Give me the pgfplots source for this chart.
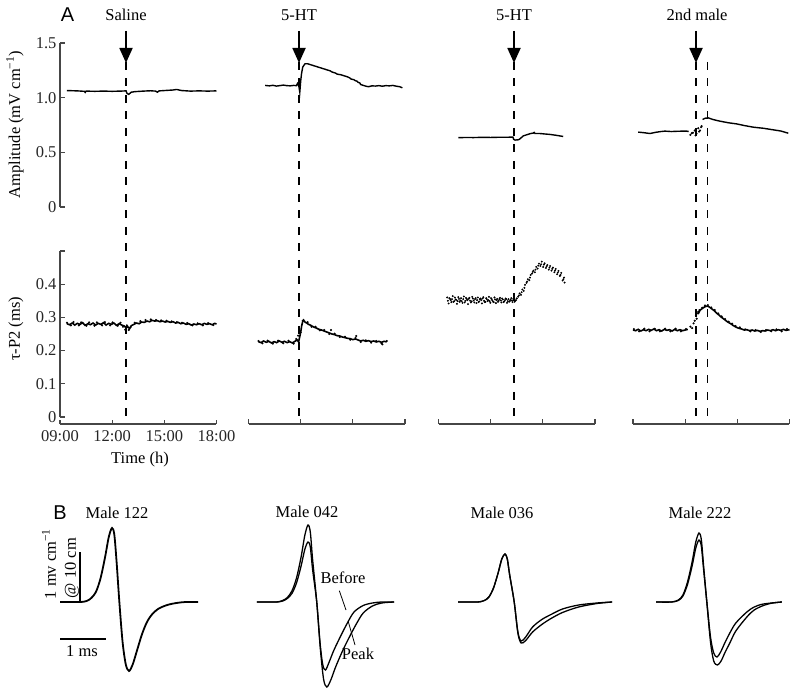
\documentclass[border=0pt]{standalone}
\usepackage{fontspec}
\setmainfont{Liberation Serif}
\newfontfamily\sansA{Liberation Sans}
\usepackage{pgfplots}
\pgfplotsset{compat=1.18}
\usetikzlibrary{arrows.meta}
\definecolor{axgray}{RGB}{70,70,70}
\pgfplotsset{
 base/.style={scale only axis, width=156.5pt, clip=false,
   /pgf/number format/assume math mode=true,
   tick label style={font=\fontsize{16.5}{19}\selectfont, text=black!85},
   xticklabel style={yshift=-3pt},
   axis line style={axgray, line width=1.3pt},
   major tick length=4.5pt, tick style={axgray, line width=1.2pt},
   xmin=0, xmax=9},
 ampl/.style={base, height=164pt, ymin=0, ymax=1.5},
 taup/.style={base, height=166pt, ymin=0, ymax=0.5},
 trace/.style={black, line width=1.4pt},
 tline/.style={black, line width=1.6pt},
 dots/.style={black, only marks, mark=*, mark size=0.85pt},
 wave/.style={hide axis, scale only axis, clip=false, width=165.6pt, height=170pt,
   xmin=-1.2, xmax=2.4, ymin=-1.8, ymax=1.6},
 wl/.style={black, line width=1.3pt, smooth},
}
\newcommand{\fs}{\fontsize{16.5}{19}\selectfont}
\begin{document}
\begin{tikzpicture}
\path[use as bounding box] (0,0) rectangle (800pt,694pt);

% ================= Column 1 =================
\begin{axis}[ampl, xmin=9, xmax=18, at={(60pt,487pt)}, anchor=south west,
  axis x line=none, axis y line*=left,
  ytick={0,0.5,1,1.5}, yticklabels={0,0.5,1.0,1.5}]
\addplot[trace] coordinates {(9.4,1.065)(9.8,1.063)(10.0,1.062)(10.4,1.058)(10.45,1.048)(10.5,1.06)(11.0,1.058)(11.5,1.06)(12.0,1.058)(12.5,1.06)(12.8,1.062)(12.85,1.04)(12.95,1.03)(13.1,1.05)(13.3,1.055)(13.8,1.06)(14.2,1.063)(14.5,1.06)(14.6,1.05)(14.7,1.062)(15.5,1.07)(15.7,1.075)(16.0,1.065)(16.5,1.06)(17.0,1.062)(17.5,1.06)(18.0,1.062)};
\end{axis}
\begin{axis}[taup, xmin=9, xmax=18, at={(60pt,277pt)}, anchor=south west,
  axis x line*=bottom, axis y line*=left, axis x line shift=7pt,
  xtick={9,12,15,18}, xticklabels={09:00,12:00,15:00,18:00},
  ytick={0,0.1,0.2,0.3,0.4,0.5}, yticklabels={0,0.1,0.2,0.3,0.4,{}}]
\addplot[tline] coordinates {(9.40,0.281)(9.55,0.278)(9.70,0.283)(9.85,0.277)(10.00,0.282)(10.15,0.279)(10.30,0.284)(10.45,0.276)(10.60,0.281)(10.75,0.278)(10.90,0.283)(11.05,0.277)(11.20,0.282)(11.35,0.279)(11.50,0.284)(11.65,0.277)(11.80,0.282)(11.95,0.279)(12.10,0.283)(12.25,0.276)(12.40,0.281)(12.55,0.277)(12.70,0.274)(12.80,0.268)(12.90,0.272)(13.00,0.266)(13.10,0.275)(13.25,0.279)(13.40,0.283)(13.55,0.281)(13.70,0.286)(13.85,0.285)(14.00,0.289)(14.15,0.287)(14.30,0.291)(14.45,0.289)(14.60,0.290)(14.75,0.287)(14.90,0.289)(15.05,0.286)(15.20,0.288)(15.35,0.285)(15.50,0.287)(15.65,0.283)(15.80,0.285)(15.95,0.281)(16.10,0.283)(16.25,0.279)(16.40,0.281)(16.55,0.277)(16.70,0.280)(16.85,0.278)(17.00,0.281)(17.15,0.278)(17.30,0.282)(17.45,0.279)(17.60,0.281)(17.75,0.278)(17.90,0.282)(18.00,0.280)};
\addplot[dots] coordinates {(9.40,0.284)(9.62,0.276)(9.78,0.286)(10.08,0.276)(10.22,0.285)(10.52,0.275)(10.68,0.285)(10.98,0.275)(11.12,0.285)(11.42,0.276)(11.58,0.286)(11.88,0.276)(12.02,0.285)(12.32,0.275)(12.48,0.284)(12.62,0.272)(12.75,0.263)(12.85,0.276)(12.95,0.262)(13.05,0.270)(13.30,0.284)(13.62,0.289)(13.92,0.292)(14.22,0.294)(14.52,0.292)(14.82,0.291)(15.12,0.290)(15.42,0.288)(15.72,0.286)(16.02,0.284)(16.32,0.283)(16.62,0.276)(16.92,0.282)(17.22,0.276)(17.52,0.283)(17.82,0.277)};
\end{axis}

% ================= Column 2 =================
\begin{axis}[ampl, at={(248.5pt,487pt)}, anchor=south west, hide axis]
\addplot[trace] coordinates {(0.96,1.112)(1.2,1.108)(1.4,1.113)(1.6,1.106)(1.8,1.110)(2.0,1.115)(2.2,1.110)(2.4,1.108)(2.6,1.112)(2.75,1.110)(2.82,1.13)(2.9,1.10)(2.95,1.05)(3.0,1.15)(3.05,1.22)(3.12,1.28)(3.25,1.31)(3.4,1.31)(3.6,1.30)(3.9,1.285)(4.2,1.27)(4.5,1.255)(4.7,1.245)(4.8,1.235)(5.0,1.225)(5.1,1.215)(5.3,1.21)(5.5,1.2)(5.7,1.19)(5.83,1.18)(5.9,1.17)(6.05,1.165)(6.15,1.155)(6.25,1.15)(6.3,1.14)(6.4,1.135)(6.45,1.12)(6.75,1.105)(6.9,1.10)(7.1,1.108)(7.3,1.106)(7.5,1.11)(7.7,1.105)(7.9,1.11)(8.1,1.108)(8.3,1.112)(8.5,1.105)(8.7,1.10)(8.85,1.09)};
\end{axis}
\begin{axis}[taup, at={(248.5pt,277pt)}, anchor=south west,
  axis x line*=bottom, axis y line=none, axis x line shift=7pt,
  xtick={0,3,6,9}, xticklabels={}, ytick=\empty]
\addplot[tline] coordinates {(0.57,0.227)(0.72,0.224)(0.87,0.229)(1.02,0.225)(1.17,0.228)(1.32,0.223)(1.47,0.227)(1.62,0.224)(1.77,0.229)(1.92,0.225)(2.07,0.228)(2.22,0.224)(2.37,0.227)(2.52,0.223)(2.67,0.228)(2.80,0.232)(2.88,0.226)(2.94,0.240)(3.00,0.255)(3.06,0.275)(3.12,0.288)(3.17,0.292)(3.25,0.286)(3.35,0.283)(3.45,0.279)(3.55,0.277)(3.65,0.274)(3.75,0.271)(3.90,0.268)(4.05,0.264)(4.20,0.262)(4.35,0.259)(4.50,0.256)(4.65,0.253)(4.80,0.250)(4.95,0.248)(5.10,0.245)(5.25,0.244)(5.40,0.241)(5.55,0.239)(5.70,0.237)(5.85,0.236)(6.00,0.233)(6.15,0.235)(6.30,0.232)(6.45,0.229)(6.60,0.231)(6.75,0.228)(6.90,0.230)(7.05,0.227)(7.20,0.229)(7.35,0.226)(7.50,0.228)(7.65,0.225)(7.80,0.228)(7.95,0.226)};
\addplot[dots] coordinates {(0.57,0.229)(0.80,0.222)(1.10,0.230)(1.40,0.221)(1.70,0.230)(2.00,0.222)(2.30,0.230)(2.60,0.221)(2.75,0.235)(2.85,0.245)(2.92,0.262)(3.00,0.255)(3.12,0.290)(3.40,0.286)(3.62,0.272)(3.85,0.272)(4.10,0.261)(4.35,0.262)(4.65,0.250)(4.75,0.262)(4.95,0.251)(5.25,0.241)(5.55,0.242)(5.85,0.233)(6.15,0.238)(6.20,0.244)(6.45,0.226)(6.75,0.231)(7.05,0.224)(7.35,0.229)(7.65,0.222)(7.95,0.229)(7.70,0.219)};
\end{axis}

% ================= Column 3 =================
\begin{axis}[ampl, at={(438.5pt,487pt)}, anchor=south west, hide axis]
\addplot[trace] coordinates {(1.14,0.634)(1.6,0.636)(2.0,0.635)(2.5,0.637)(3.0,0.636)(3.5,0.638)(4.0,0.638)(4.28,0.640)(4.32,0.62)(4.4,0.612)(4.6,0.615)(4.7,0.625)(4.87,0.65)(5.1,0.662)(5.3,0.672)(5.45,0.676)(5.5,0.682)(5.55,0.672)(5.83,0.672)(6.1,0.668)(6.4,0.664)(6.8,0.655)(7.17,0.645)};
\end{axis}
\begin{axis}[taup, at={(438.5pt,277pt)}, anchor=south west,
  axis x line*=bottom, axis y line=none, axis x line shift=7pt,
  xtick={0,3,6,9}, xticklabels={}, ytick=\empty]
\addplot[dots, mark size=0.75pt] coordinates {(0.50,0.360)(0.58,0.342)(0.66,0.356)(0.74,0.346)(0.82,0.364)(0.90,0.349)(0.98,0.354)(1.06,0.341)(1.14,0.361)(1.22,0.347)(1.30,0.358)(1.38,0.344)(1.46,0.363)(1.54,0.350)(1.62,0.356)(1.70,0.340)(1.78,0.359)(1.86,0.345)(1.94,0.362)(2.02,0.351)(2.10,0.355)(2.18,0.343)(2.26,0.360)(2.34,0.348)(2.42,0.357)(2.50,0.342)(2.58,0.361)(2.66,0.346)(2.74,0.358)(2.82,0.349)(2.90,0.362)(2.98,0.344)(3.06,0.355)(3.14,0.347)(3.22,0.360)(3.30,0.343)(3.38,0.356)(3.46,0.350)(3.54,0.359)(3.62,0.345)(3.70,0.354)(3.78,0.348)(3.86,0.357)(3.94,0.344)(4.02,0.355)(4.10,0.349)(4.18,0.358)(4.26,0.346)(4.34,0.354)(4.42,0.350)(4.50,0.357)(4.58,0.362)(4.66,0.372)(4.74,0.368)(4.82,0.384)(4.90,0.380)(4.98,0.398)(5.06,0.404)(5.14,0.415)(5.22,0.412)(5.30,0.428)(5.38,0.432)(5.46,0.441)(5.54,0.436)(5.62,0.452)(5.70,0.447)(5.78,0.462)(5.86,0.455)(5.94,0.468)(6.02,0.452)(6.10,0.463)(6.18,0.449)(6.26,0.458)(6.34,0.444)(6.42,0.455)(6.50,0.441)(6.58,0.450)(6.66,0.436)(6.74,0.446)(6.82,0.430)(6.90,0.440)(6.98,0.425)(7.06,0.434)(7.14,0.411)(7.22,0.420)(7.25,0.405)};
\addplot[dots, mark size=0.75pt] coordinates {(0.54,0.350)(0.62,0.358)(0.70,0.352)(0.78,0.355)(0.86,0.347)(0.94,0.360)(1.02,0.353)(1.10,0.349)(1.18,0.356)(1.26,0.351)(1.34,0.349)(1.42,0.355)(1.50,0.345)(1.58,0.359)(1.66,0.352)(1.74,0.356)(1.82,0.350)(1.90,0.348)(1.98,0.357)(2.06,0.345)(2.14,0.358)(2.22,0.352)(2.30,0.346)(2.38,0.355)(2.46,0.352)(2.54,0.357)(2.62,0.350)(2.70,0.347)(2.78,0.355)(2.86,0.352)(2.94,0.349)(3.02,0.358)(3.10,0.351)(3.18,0.346)(3.26,0.354)(3.34,0.352)(3.42,0.347)(3.50,0.355)(3.58,0.351)(3.66,0.357)(3.74,0.346)(3.82,0.352)(3.90,0.355)(3.98,0.349)(4.06,0.347)(4.14,0.353)(4.22,0.351)(4.30,0.356)(4.38,0.347)(4.46,0.352)(4.62,0.366)(4.78,0.376)(4.94,0.389)(5.10,0.408)(5.26,0.420)(5.42,0.437)(5.58,0.444)(5.74,0.456)(5.90,0.460)(6.06,0.459)(6.22,0.454)(6.38,0.450)(6.54,0.446)(6.70,0.441)(6.86,0.435)(7.02,0.428)(7.18,0.415)};
\end{axis}

% ================= Column 4 =================
\begin{axis}[ampl, at={(633pt,487pt)}, anchor=south west, hide axis]
\addplot[trace] coordinates {(0.3,0.685)(0.6,0.680)(0.98,0.672)(1.3,0.683)(1.6,0.690)(1.84,0.694)(2.2,0.690)(2.6,0.693)(3.09,0.694)(3.2,0.690)};
\addplot[dots] coordinates {(3.3,0.66)(3.38,0.675)(3.45,0.68)(3.55,0.70)(3.6,0.655)(3.65,0.67)(3.75,0.72)(3.8,0.69)(3.85,0.70)(3.92,0.73)(3.95,0.74)};
\addplot[trace] coordinates {(4.0,0.80)(4.15,0.812)(4.33,0.815)(4.6,0.80)(5.0,0.785)(5.5,0.77)(5.96,0.76)(6.4,0.745)(6.92,0.73)(7.5,0.72)(8.06,0.706)(8.3,0.70)(8.5,0.695)(8.93,0.675)};
\end{axis}
\begin{axis}[taup, at={(633pt,277pt)}, anchor=south west,
  axis x line*=bottom, axis y line=none, axis x line shift=7pt,
  xtick={0,3,6,9}, xticklabels={}, ytick=\empty]
\addplot[tline] coordinates {(0.00,0.262)(0.15,0.260)(0.30,0.264)(0.45,0.259)(0.60,0.263)(0.75,0.260)(0.90,0.264)(1.05,0.261)(1.20,0.265)(1.35,0.260)(1.50,0.263)(1.65,0.259)(1.80,0.264)(1.95,0.261)(2.10,0.263)(2.25,0.259)(2.40,0.264)(2.55,0.260)(2.70,0.263)(2.85,0.260)(3.00,0.262)(3.15,0.264)};
\addplot[tline] coordinates {(3.70,0.318)(3.78,0.314)(3.86,0.322)(3.94,0.325)(4.02,0.328)(4.10,0.331)(4.18,0.333)(4.26,0.334)(4.34,0.333)(4.45,0.329)(4.55,0.325)(4.65,0.321)(4.75,0.316)(4.85,0.311)(4.95,0.307)(5.05,0.302)(5.15,0.298)(5.25,0.294)(5.35,0.290)(5.45,0.286)(5.55,0.283)(5.65,0.280)(5.75,0.276)(5.85,0.273)(5.95,0.270)(6.10,0.267)(6.25,0.265)(6.40,0.262)(6.55,0.263)(6.70,0.260)(6.85,0.262)(7.00,0.259)(7.15,0.261)(7.30,0.258)(7.45,0.260)(7.60,0.259)(7.75,0.262)(7.90,0.260)(8.05,0.263)(8.20,0.260)(8.35,0.263)(8.50,0.261)(8.65,0.264)(8.80,0.261)(9.00,0.263)};
\addplot[dots] coordinates {(0.05,0.265)(0.35,0.258)(0.65,0.266)(0.95,0.258)(1.25,0.266)(1.55,0.258)(1.85,0.266)(2.15,0.258)(2.45,0.266)(2.75,0.258)(3.05,0.265)(3.30,0.272)(3.40,0.268)(3.48,0.282)(3.55,0.290)(3.62,0.305)(3.66,0.296)(3.74,0.312)(3.82,0.322)(3.98,0.329)(4.14,0.336)(4.30,0.337)(4.50,0.330)(4.70,0.322)(4.90,0.312)(5.10,0.303)(5.30,0.295)(5.50,0.287)(5.70,0.281)(5.90,0.274)(6.15,0.270)(6.45,0.264)(6.75,0.258)(7.05,0.262)(7.35,0.256)(7.65,0.262)(7.95,0.258)(8.25,0.264)(8.55,0.258)(8.85,0.265)};
\end{axis}

% ================= annotations panel A =================
\foreach \xx in {126,299,514,696,707.5}
  \draw[black, line width=1.6pt, dash pattern=on 8pt off 8.5pt] (\xx pt,632pt) -- (\xx pt,277pt);
\foreach \xx in {126,299,514,696}
  \draw[black, line width=1.8pt, -{Triangle[width=13pt,length=15pt]}] (\xx pt,663pt) -- (\xx pt,631pt);
\node[anchor=base, font=\fs] at (126pt,673pt) {Saline};
\node[anchor=base, font=\fs] at (299pt,673pt) {5-HT};
\node[anchor=base, font=\fs] at (514pt,673pt) {5-HT};
\node[anchor=base, font=\fs] at (697pt,673pt) {2nd male};
\node[font=\sansA\fontsize{20}{24}\selectfont] at (67.5pt,679.5pt) {A};
\node[rotate=90, font=\fs] at (15pt,569.5pt) {Amplitude (mV cm\textsuperscript{−1})};
\node[rotate=90, font=\fs] at (16pt,365pt) {τ-P2 (ms)};
\node[font=\fs] at (140pt,234pt) {Time (h)};

% ================= Panel B =================
\begin{axis}[wave, at={(56.8pt,2pt)}, anchor=south west]
\addplot[wl, line width=1.8pt] coordinates {(-1.13,0)(-0.7,0)(-0.55,0.02)(-0.45,0.08)(-0.35,0.2)(-0.25,0.47)(-0.15,0.9)(-0.07,1.3)(0,1.48)(0.05,1.35)(0.1,0.8)(0.16,0)(0.23,-0.8)(0.3,-1.25)(0.37,-1.38)(0.45,-1.25)(0.55,-0.95)(0.65,-0.65)(0.75,-0.42)(0.85,-0.27)(1.0,-0.14)(1.2,-0.06)(1.4,-0.02)(1.6,0)(1.87,0)};
\end{axis}
\begin{axis}[wave, at={(252.8pt,2pt)}, anchor=south west]
\addplot[wl] coordinates {(-1.11,0)(-0.7,0)(-0.55,0.02)(-0.45,0.07)(-0.35,0.17)(-0.25,0.38)(-0.15,0.72)(-0.07,1.05)(0,1.2)(0.05,1.1)(0.1,0.65)(0.19,0)(0.26,-0.8)(0.32,-1.25)(0.38,-1.36)(0.46,-1.2)(0.56,-0.97)(0.7,-0.70)(0.85,-0.43)(1.0,-0.2)(1.2,-0.07)(1.4,-0.02)(1.6,0)(1.87,0)};
\addplot[wl] coordinates {(-1.11,0)(-0.7,0)(-0.55,0.03)(-0.45,0.09)(-0.35,0.22)(-0.25,0.48)(-0.15,0.9)(-0.07,1.33)(0,1.54)(0.05,1.4)(0.1,0.85)(0.19,0)(0.27,-0.95)(0.34,-1.55)(0.41,-1.7)(0.5,-1.55)(0.6,-1.3)(0.75,-0.98)(0.9,-0.7)(1.05,-0.44)(1.2,-0.22)(1.4,-0.08)(1.6,-0.02)(1.87,0)};
\end{axis}
\begin{axis}[wave, at={(449.8pt,2pt)}, anchor=south west]
\addplot[wl] coordinates {(-1.02,0)(-0.6,0)(-0.45,0.03)(-0.35,0.1)(-0.25,0.28)(-0.15,0.58)(-0.07,0.86)(0,0.96)(0.05,0.86)(0.1,0.55)(0.2,0)(0.28,-0.6)(0.35,-0.78)(0.45,-0.70)(0.6,-0.5)(0.8,-0.35)(1.0,-0.25)(1.25,-0.14)(1.6,-0.06)(2.0,-0.02)(2.33,0)};
\addplot[wl] coordinates {(-1.02,0)(-0.6,0)(-0.45,0.03)(-0.35,0.1)(-0.25,0.28)(-0.15,0.58)(-0.07,0.86)(0,0.96)(0.05,0.86)(0.1,0.55)(0.2,0)(0.28,-0.62)(0.35,-0.82)(0.45,-0.77)(0.6,-0.6)(0.8,-0.45)(1.0,-0.33)(1.25,-0.21)(1.6,-0.1)(2.0,-0.03)(2.33,0)};
\end{axis}
\begin{axis}[wave, at={(643.8pt,2pt)}, anchor=south west]
\addplot[wl] coordinates {(-0.93,0)(-0.6,0)(-0.45,0.03)(-0.35,0.12)(-0.25,0.35)(-0.15,0.72)(-0.07,1.08)(0,1.24)(0.05,1.12)(0.1,0.65)(0.17,0)(0.25,-0.7)(0.32,-1.02)(0.39,-1.1)(0.47,-1.0)(0.56,-0.82)(0.67,-0.62)(0.8,-0.42)(1.04,-0.2)(1.2,-0.1)(1.4,-0.04)(1.8,0)};
\addplot[wl] coordinates {(-0.93,0)(-0.6,0)(-0.45,0.04)(-0.35,0.14)(-0.25,0.4)(-0.15,0.8)(-0.07,1.2)(0,1.38)(0.05,1.25)(0.1,0.72)(0.17,0)(0.25,-0.8)(0.32,-1.18)(0.4,-1.26)(0.48,-1.18)(0.57,-1.0)(0.67,-0.82)(0.8,-0.58)(1.04,-0.3)(1.2,-0.16)(1.4,-0.07)(1.6,-0.02)(1.8,0)};
\end{axis}

\node[font=\sansA\fontsize{20}{24}\selectfont] at (60pt,181pt) {B};
\node[font=\fs] at (117pt,181pt) {Male 122};
\node[font=\fs] at (307pt,182pt) {Male 042};
\node[font=\fs] at (502pt,181pt) {Male 036};
\node[font=\fs] at (700pt,181pt) {Male 222};
% scale bars
\draw[black, line width=1.5pt] (80pt,92pt) -- (80pt,142pt);
\draw[black, line width=1.5pt] (60pt,55pt) -- (106pt,55pt);
\node[font=\fs] at (82pt,43pt) {1 ms};
\node[rotate=90, font=\fs] at (49pt,130pt) {1 mv cm\textsuperscript{−1}};
\node[rotate=90, font=\fs] at (72pt,126pt) {@ 10 cm};
% Before / Peak labels
\node[font=\fs] at (343pt,116pt) {Before};
\draw[black, line width=0.8pt] (339.3pt,103.3pt) -- (346pt,84pt);
\node[font=\fs] at (358pt,40pt) {Peak};
\draw[black, line width=0.8pt] (355pt,49pt) -- (348.3pt,72.3pt);
\end{tikzpicture}
\end{document}
